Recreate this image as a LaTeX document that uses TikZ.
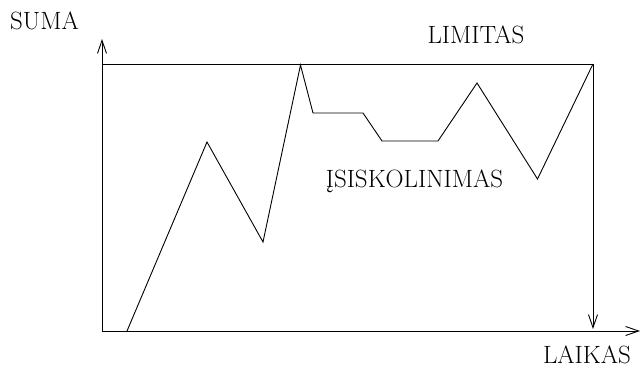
\documentclass[tikz,border=0pt]{standalone}
\usepackage{fontspec}
\usetikzlibrary{arrows.meta}
\tikzset{
	eje/.style={line width=0.9pt,-{Straight Barb[length=13pt,width=9pt,line width=0.9pt]}},
	linea/.style={line width=0.9pt,line join=miter},
	rotulo/.style={font=\fontsize{25}{27}\selectfont,anchor=base,inner sep=0pt}
}
\begin{document}
\begin{tikzpicture}[x=1pt,y=-1pt]
			\useasboundingbox (0,0) rectangle (640,367);
			%ejes
			\coordinate (O) at (102,331);
			\coordinate (ytop) at (102,39);
			\coordinate (xend) at (640,331);
			\draw[eje] (O) -- (ytop);
			\draw[eje] (O) -- (xend);
			%limite
			\coordinate (lim0) at (102,64);
			\coordinate (lim1) at (593,64);
			\coordinate (limbajo) at (593,329);
			\draw[linea] (lim0) -- (lim1);
			\draw[eje] (lim1) -- (limbajo);
			%deuda
			\draw[linea] (127,331) -- (207,142) -- (263,242) -- (300.5,65) -- (313,113)
				-- (363,113) -- (382,141) -- (438,141) -- (477,83) -- (537.5,179) -- (lim1);
			%textos
			\node[rotulo] (suma) at (44.5,29) {SUMA};
			\node[rotulo] (limitas) at (476,43) {LIMITAS};
			\node[rotulo] (skola) at (414.5,187) {ĮSISKOLINIMAS};
			\node[rotulo] (laikas) at (587,363) {LAIKAS};
\end{tikzpicture}
\end{document}
